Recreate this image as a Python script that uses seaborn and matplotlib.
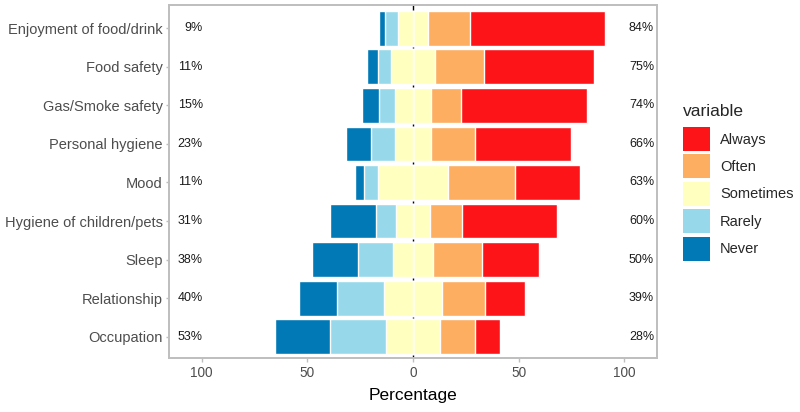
import numpy as np
import pandas as pd
import matplotlib
matplotlib.use("Agg")
import matplotlib.pyplot as plt
import seaborn as sns
from matplotlib.patches import Patch

# survey items, top to bottom
items = ["Enjoyment of food/drink", "Food safety", "Gas/Smoke safety", "Personal hygiene",
         "Mood", "Hygiene of children/pets", "Sleep", "Relationship", "Occupation"]

# percentages per answer
never = [3.0, 5.0, 7.9, 11.9, 4.1, 21.4, 21.4, 18.1, 26.1]
rarely = [6.1, 6.2, 7.4, 11.3, 6.7, 9.5, 16.9, 21.9, 26.5]
sometimes = [14.2, 20.8, 17.5, 17.5, 33.3, 16.4, 18.6, 27.8, 25.9]
often = [19.7, 23.2, 14.2, 20.4, 31.6, 14.8, 23.2, 20.3, 16.6]
always = [63.9, 51.9, 59.6, 45.6, 31.0, 45.0, 27.1, 18.6, 11.8]

low_labels = ["9%", "11%", "15%", "23%", "11%", "31%", "38%", "40%", "53%"]
high_labels = ["84%", "75%", "74%", "66%", "63%", "60%", "50%", "39%", "28%"]

levels = ["Always", "Often", "Sometimes", "Rarely", "Never"]
colors = {"Always": "#FC1419", "Often": "#FDAE61", "Sometimes": "#FFFFBF",
          "Rarely": "#97D9EA", "Never": "#0079B6"}

df = pd.DataFrame({"item": items, "Never": never, "Rarely": rarely,
                   "Sometimes": sometimes, "Often": often, "Always": always})
half = df["Sometimes"] / 2

sns.set_theme(style="white")
plt.rcParams["font.family"] = ["Liberation Sans", "DejaVu Sans"]

fig = plt.figure(figsize=(8, 4.12), dpi=100)
ax = fig.add_axes([169 / 800, 1 - 358 / 412, 488 / 800, 353 / 412])

ax.axvline(0, color="black", lw=1, zorder=0)

# overlapping cumulative bars give the diverging stack
layers = [
    (half + df["Often"] + df["Always"], "Always"),
    (half + df["Often"], "Often"),
    (half, "Sometimes"),
    (-(half + df["Rarely"] + df["Never"]), "Never"),
    (-(half + df["Rarely"]), "Rarely"),
    (-half, "Sometimes"),
]
for vals, lev in layers:
    sns.barplot(x=vals.values, y=df["item"], color=colors[lev], saturation=1,
                width=0.9, orient="h", ax=ax, zorder=2)

for i in range(len(items)):
    ax.text(-99.5, i, low_labels[i], ha="right", va="center", fontsize=9, color="#1A1A1A")
    ax.text(102.2, i, high_labels[i], ha="left", va="center", fontsize=9, color="#1A1A1A")

ax.set_xlim(-115.5, 115.5)
ax.set_ylim(len(items) - 0.45, -0.6)
ax.set_xticks([-100, -50, 0, 50, 100])
ax.set_xticklabels(["100", "50", "0", "50", "100"])
ax.set_xlabel("Percentage", fontsize=12.5, color="black", labelpad=6)
ax.set_ylabel("")
ax.tick_params(axis="x", labelsize=9.8, labelcolor="#4D4D4D", color="#BEBEBE",
               length=3, width=1, pad=2.5, bottom=True)
ax.tick_params(axis="y", labelsize=10.5, labelcolor="#4D4D4D", color="#BEBEBE",
               length=2.5, width=1, pad=2, left=True)
for s in ax.spines.values():
    s.set_color("#BEBEBE")
    s.set_linewidth(1.4)

fig.text(683 / 800, 1 - 112 / 412, "variable", fontsize=12.5, ha="left", va="center")
handles = [Patch(facecolor=colors[l], edgecolor="none", label=l) for l in levels]
leg = fig.legend(handles=handles, loc="upper left",
                 bbox_to_anchor=(683 / 800, 1 - 127 / 412), frameon=False,
                 fontsize=10.5, handlelength=1.85, handleheight=2.15,
                 labelspacing=0.24, handletextpad=0.68,
                 borderpad=0, borderaxespad=0)

fig.savefig("out.png", dpi=100)
